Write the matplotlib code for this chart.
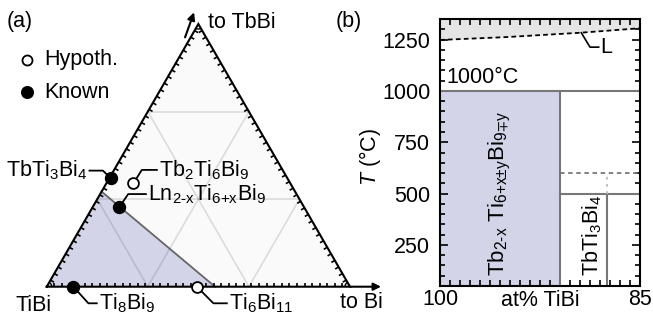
import numpy as np
import matplotlib
matplotlib.use('Agg')
import matplotlib.pyplot as plt
from matplotlib.patches import Polygon, Arc
from matplotlib.collections import LineCollection
from matplotlib.ticker import FixedLocator

plt.rcParams['font.family'] = ['Liberation Sans', 'DejaVu Sans']
plt.rcParams['mathtext.fontset'] = 'custom'
plt.rcParams['mathtext.rm'] = 'Liberation Sans'
plt.rcParams['mathtext.it'] = 'Liberation Sans:italic'
plt.rcParams['mathtext.bf'] = 'Liberation Sans:bold'
plt.rcParams['mathtext.fallback'] = 'stixsans'
FS = 15.5

# ---- (a) ternary section: b = fraction toward Bi, t = fraction toward TbBi
phase_names = ['TbTi$_3$Bi$_4$', 'Tb$_2$Ti$_6$Bi$_9$',
               r'Ln$_{\text{2-x}}$Ti$_{\text{6+x}}$Bi$_9$',
               'Ti$_8$Bi$_9$', 'Ti$_6$Bi$_{11}$']
phase_b = [0.005, 0.089, 0.088, 0.088, 0.495]
phase_t = [0.413, 0.394, 0.302, 0.0, 0.0]
phase_known = [True, False, True, True, False]
grid_fracs = [1/3, 2/3]
shade_t_left = 0.362
shade_b_bottom = 0.555
n_tri_ticks = 40

# ---- (b) T-x section
liq_x = [100, 95, 89.5, 85]
liq_T = [1248, 1262, 1283, 1305]
x_boundary = 91.0
x_tbti3bi4 = 87.5
T_anneal = 1000
T_low = 500
T_high = 600
x_range = (100, 85)
T_range = (50, 1350)

lavender = '#d3d4e8'
gline = '#777777'

fig = plt.figure(figsize=(6.53, 3.20), dpi=100)

# pixel scale for panel (a): triangle side = 303.3 px
s = 1 / 303.3
h = np.sqrt(3) / 2
ax = fig.add_axes([0, 0, 400 / 653, 1])
ax.set_xlim(-46.7 * s, (400 - 46.7) * s)
ax.set_ylim(-(320 - 286.7) * s, 286.7 * s)
ax.axis('off')


def tern(b, t):
    return b + t / 2, t * h


A, B, C = tern(0, 0), tern(1, 0), tern(0, 1)
ax.add_patch(Polygon([A, B, C], closed=True, facecolor='#fafafa', edgecolor='none', zorder=0))
ax.add_patch(Polygon([A, tern(0, shade_t_left), tern(shade_b_bottom, 0)], closed=True,
                     facecolor=lavender, edgecolor='none', zorder=1))
p1, p2 = tern(0, shade_t_left), tern(shade_b_bottom, 0)
ax.plot([p1[0], p2[0]], [p1[1], p2[1]], color='#666666', lw=1.3, zorder=3)

# grid lines
for f in grid_fracs:
    for q0, q1 in [(tern(0, f), tern(1 - f, f)), (tern(f, 0), tern(f, 1 - f)),
                   (tern(1 - f, 0), tern(0, 1 - f))]:
        ax.plot([q0[0], q1[0]], [q0[1], q1[1]], color='k', alpha=0.12, lw=1.2, zorder=2)

# triangle edges
ax.plot([A[0], B[0], C[0], A[0]], [A[1], B[1], C[1], A[1]], color='k', lw=1.5,
        solid_joinstyle='miter', zorder=4)

# ticks perpendicular to edges, pointing inward
L = 4 * s
segs = []
edges = [(A, B, (0, 1)), (B, C, (-h, -0.5)), (C, A, (h, -0.5))]
for P, Q, nrm in edges:
    for k in range(1, n_tri_ticks):
        f = k / n_tri_ticks
        x0 = P[0] + f * (Q[0] - P[0])
        y0 = P[1] + f * (Q[1] - P[1])
        segs.append([(x0, y0), (x0 + L * nrm[0], y0 + L * nrm[1])])
ax.add_collection(LineCollection(segs, colors='k', linewidths=1.2, zorder=4))

# corner arcs
r = 10 * s
for P, a0 in [(A, 0), (B, 120), (C, 240)]:
    ax.add_patch(Arc(P, r, r, theta1=a0, theta2=a0 + 60, color='k', lw=1.0, zorder=4))

# arrows
ax.annotate('', xy=(C[0] - 4.3 * s, C[1] + 11.7 * s), xytext=(C[0] - 13.3 * s, C[1] - 13.3 * s),
            arrowprops=dict(arrowstyle='-|>', color='k', lw=1.5, mutation_scale=11,
                            shrinkA=0, shrinkB=0))
ax.annotate('', xy=(B[0] + 31 * s, B[1]), xytext=(B[0], B[1]),
            arrowprops=dict(arrowstyle='-|>', color='k', lw=1.5, mutation_scale=11,
                            shrinkA=0, shrinkB=0))

ax.text(A[0] - 13.5 * s, A[1] - 18.5 * s, 'TiBi', fontsize=FS, ha='center', va='center')
ax.text(B[0] + 11 * s, B[1] - 15.5 * s, 'to Bi', fontsize=FS, ha='center', va='center')
ax.text(C[0] + 9.5 * s, C[1] + 1.5 * s, 'to TbBi', fontsize=FS, ha='left', va='center')

# leader lines: (elbow dx, dy), (end dx, dy), text anchor in px; dy positive = up
leaders = [((-8, 7.6), (-21.4, 7.6), 'right'),
           ((8.4, 13.3), (23.4, 13.3), 'left'),
           ((9, 13.3), (26.7, 13.3), 'left'),
           ((15, -16.6), (23.4, -16.6), 'left'),
           ((16.6, -16.6), (30, -16.6), 'left')]

for name, b, t, kn, (el, en, ha) in zip(phase_names, phase_b, phase_t, phase_known, leaders):
    x, y = tern(b, t)
    ax.plot([x, x + el[0] * s, x + en[0] * s], [y, y + el[1] * s, y + en[1] * s],
            color='k', lw=1.3, zorder=5)
    if kn:
        ax.plot(x, y, 'o', ms=8.6, mfc='k', mec='k', zorder=6)
    else:
        ax.plot(x, y, 'o', ms=7.8, mfc='white', mec='k', mew=1.3, zorder=6)
    tx = x + (en[0] + (2 if ha == 'left' else -2)) * s
    ax.text(tx, y + en[1] * s, name, fontsize=FS, ha=ha, va='center', zorder=6)

# legend
ax.plot((26.7 - 46.7) * s, (286.7 - 60) * s, 'o', ms=7.2, mfc='white', mec='k', mew=1.3)
ax.plot((26.7 - 46.7) * s, (286.7 - 92) * s, 'o', ms=8.4, mfc='k', mec='k')
ax.text((44 - 46.7) * s, (286.7 - 60) * s, 'Hypoth.', fontsize=FS, va='center')
ax.text((44 - 46.7) * s, (286.7 - 92) * s, 'Known', fontsize=FS, va='center')

fig.text(7 / 653, 1 - 21.5 / 320, '(a)', fontsize=FS, ha='left', va='center')
fig.text(336 / 653, 1 - 21.5 / 320, '(b)', fontsize=FS, ha='left', va='center')

# ---- panel (b)
ax2 = fig.add_axes([440 / 653, 34 / 320, 200 / 653, 267 / 320])
ax2.set_xlim(*x_range)
ax2.set_ylim(*T_range)
ax2.fill_between(liq_x, liq_T, T_range[1], color='#e5e5e5', lw=0, zorder=0)
ax2.plot(liq_x, liq_T, color='k', lw=1.3, dashes=(2.6, 1.8), zorder=3)
ax2.fill_between([x_range[0], x_boundary], T_range[0], T_anneal, color=lavender, lw=0, zorder=0)
ax2.axhline(T_anneal, color=gline, lw=1.5, zorder=2)
ax2.plot([x_boundary, x_boundary], [T_range[0], T_anneal], color=gline, lw=1.5, zorder=2)
ax2.plot([x_boundary, x_range[1]], [T_low, T_low], color=gline, lw=1.5, zorder=2)
ax2.plot([x_boundary, x_range[1]], [T_high, T_high], color=gline, lw=1.3, dashes=(2.5, 2), zorder=2)
ax2.plot([x_tbti3bi4, x_tbti3bi4], [T_range[0], T_low], color=gline, lw=1.5, zorder=2)
ax2.plot([x_tbti3bi4, x_tbti3bi4], [T_low, T_high], color='#bbbbbb', lw=1.3, dashes=(1.5, 2.5), zorder=2)

ax2.text(99.5, 1012, '1000°C', fontsize=FS, ha='left', va='bottom')
ax2.plot([89.4, 88.75, 88.1], [1283, 1213, 1213], color='k', lw=1.2)
ax2.text(87.95, 1210, 'L', fontsize=FS, ha='left', va='center')
ax2.text(95.5, 100, r'Tb$_{\text{2-x}}$ Ti$_{\text{6+x±y}}$Bi$_{\text{9∓y}}$', fontsize=FS + 0.5,
         rotation=90, ha='center', va='bottom')
ax2.text(88.6, 100, 'TbTi$_3$Bi$_4$', fontsize=FS, rotation=90, ha='center', va='bottom')

ax2.set_yticks([250, 500, 750, 1000, 1250])
ax2.yaxis.set_minor_locator(FixedLocator(np.arange(50, 1351, 50)))
ax2.set_xticks([100, 85])
ax2.xaxis.set_minor_locator(FixedLocator(np.arange(85, 100, 0.75)))
ax2.tick_params(axis='both', which='both', direction='in', top=True, right=True,
                width=1.2, labelsize=FS)
ax2.tick_params(axis='y', which='major', length=6, pad=7)
ax2.tick_params(axis='y', which='minor', length=3.5)
ax2.tick_params(axis='x', which='major', length=0, pad=2.5)
ax2.tick_params(axis='x', which='minor', length=4)
for sp in ax2.spines.values():
    sp.set_linewidth(1.5)
ax2.set_xlabel('at% TiBi', fontsize=FS)
ax2.xaxis.set_label_coords(0.5, -0.015)
ax2.set_ylabel('$T$ (°C)', fontsize=FS)
ax2.yaxis.set_label_coords(-0.285, 0.483)

fig.savefig('out.png', dpi=100)
